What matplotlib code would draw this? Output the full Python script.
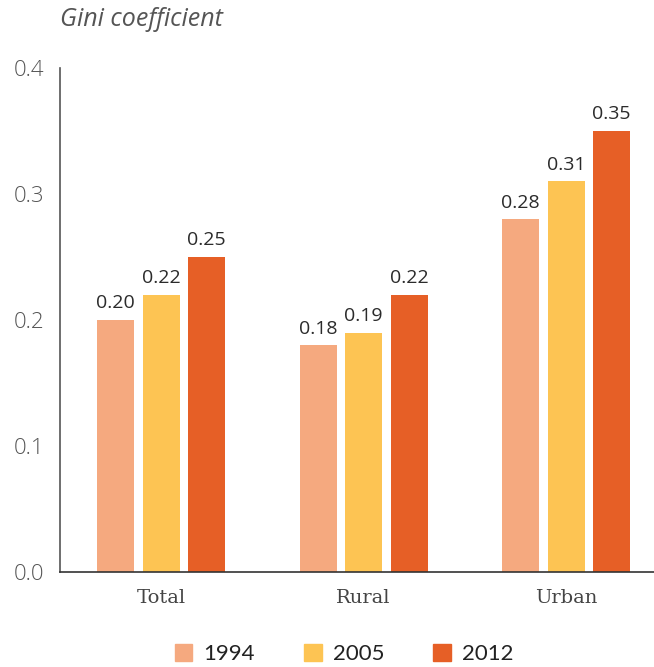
import matplotlib
matplotlib.use("Agg")
import matplotlib.pyplot as plt
from matplotlib.patches import Patch
import numpy as np

categories = ["Total", "Rural", "Urban"]
years = ["1994", "2005", "2012"]
v1994 = [0.20, 0.18, 0.28]
v2005 = [0.22, 0.19, 0.31]
v2012 = [0.25, 0.22, 0.35]
yticks = [0.0, 0.1, 0.2, 0.3, 0.4]
colors = ["#F5A97F", "#FDC453", "#E65F26"]

fig = plt.figure(figsize=(6.54, 6.67), dpi=100)
ax = fig.add_axes([60/654, 1-572/667, 1-60/654, (572-68)/667])

x = np.arange(len(categories))
step = 0.2247
width = 0.183
series = [v1994, v2005, v2012]
for i, (vals, c) in enumerate(zip(series, colors)):
    pos = x + (i - 1) * step
    bars = ax.bar(pos, vals, width=width, color=c, zorder=2)
    for b, v in zip(bars, vals):
        ax.text(b.get_x() + b.get_width()/2, v + 0.006, f"{v:.2f}",
                ha="center", va="bottom", fontsize=14, color="#2b2b2b",
                family="Open Sans")

ax.set_xlim(-0.5, 2.434)
ax.set_ylim(0, 0.4)
ax.set_yticks(yticks)
ax.set_yticklabels([f"{t:.1f}" for t in yticks], family="Open Sans",
                   fontsize=16, color="#555555", fontweight="light")
ax.set_xticks(x)
ax.set_xticklabels(categories, family="DejaVu Serif", fontsize=14, color="#444444")
ax.tick_params(axis="both", length=0)
ax.tick_params(axis="y", pad=11)
ax.tick_params(axis="x", pad=12)
for s in ["top", "right"]:
    ax.spines[s].set_visible(False)
ax.spines["left"].set_color("#555555")
ax.spines["bottom"].set_color("#333333")
ax.spines["left"].set_linewidth(1.2)
ax.spines["bottom"].set_linewidth(1.2)

fig.text(60/654, 1-20/667, "Gini coefficient", ha="left", va="center",
         family="Open Sans", style="italic", fontsize=18, color="#555555")

handles = [Patch(color=c, label=y) for c, y in zip(colors, years)]
leg = fig.legend(handles=handles, loc="center", bbox_to_anchor=(344/654, 1-654/667),
                 ncol=3, frameon=False, handlelength=0.8, handleheight=0.8,
                 handletextpad=0.5, columnspacing=2.2,
                 prop={"family": "Lato", "size": 16})
for t in leg.get_texts():
    t.set_color("#222222")

fig.savefig("out.png", dpi=100)
